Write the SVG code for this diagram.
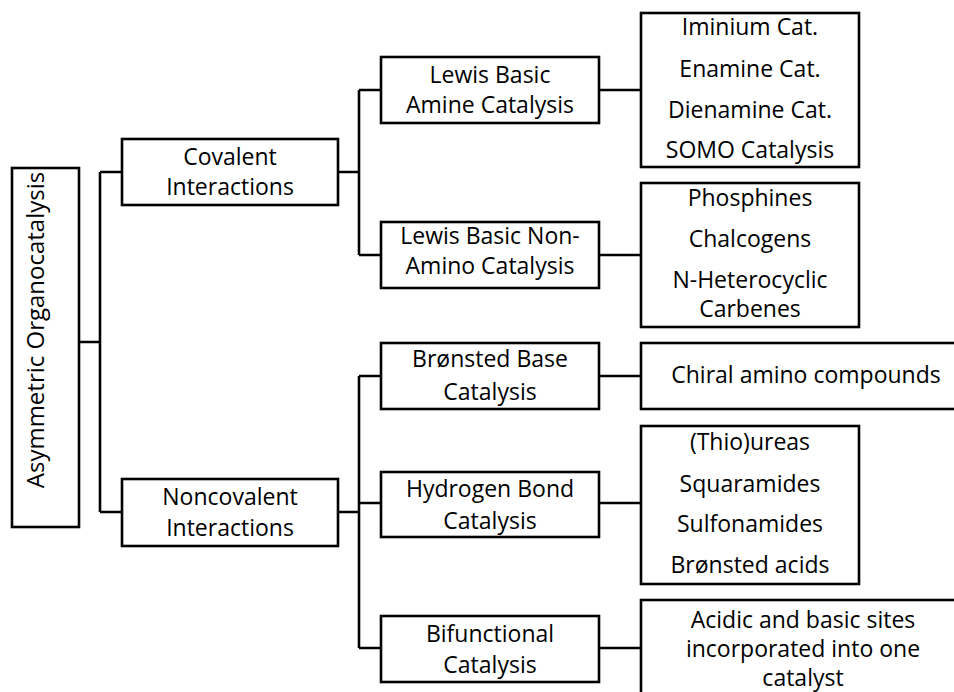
<svg xmlns="http://www.w3.org/2000/svg" width="954" height="692" viewBox="0 0 954 692">
<style>
.box{fill:#fff;stroke:#000;stroke-width:2.6}
.ln{fill:none;stroke:#000;stroke-width:2.6}
text{font-family:"Open Sans","Noto Sans","Liberation Sans",sans-serif;font-size:23px;fill:#000;text-anchor:middle}
.big{font-size:24px}
</style>
<rect width="954" height="692" fill="#fff"/>
<g id="connectors" class="ln">
<path d="M79,342H100M100,172V512M100,172H122M100,512H122"/>
<path d="M338,172H359M359,90V255M359,90H381M359,255H381"/>
<path d="M338,512H359M359,376V648M359,376H381M359,503H381M359,648H381"/>
<path d="M599,90H641M599,255H641M599,376H641M599,503H641M599,648H641"/>
</g>
<g id="root"><rect class="box" x="12" y="168" width="67" height="359"/>
<text class="big" transform="translate(44,330) rotate(-90)">Asymmetric Organocatalysis</text></g>
<g id="covalent"><rect class="box" x="122" y="139" width="216" height="66"/>
<text x="230" y="165">Covalent</text><text x="230" y="195">Interactions</text></g>
<g id="noncovalent"><rect class="box" x="122" y="479" width="216" height="67"/>
<text x="230" y="505">Noncovalent</text><text x="230" y="536">Interactions</text></g>
<g id="lewis-amine"><rect class="box" x="381" y="57" width="218" height="66"/>
<text x="490" y="83">Lewis Basic</text><text x="490" y="113">Amine Catalysis</text></g>
<g id="lewis-nonamino"><rect class="box" x="381" y="222" width="218" height="66"/>
<text x="490" y="244">Lewis Basic Non-</text><text x="490" y="274">Amino Catalysis</text></g>
<g id="bronsted-base"><rect class="box" x="381" y="343" width="218" height="66"/>
<text x="490" y="367">Brønsted Base</text><text x="490" y="400">Catalysis</text></g>
<g id="hbond"><rect class="box" x="381" y="472" width="218" height="65"/>
<text x="490" y="497">Hydrogen Bond</text><text x="490" y="529">Catalysis</text></g>
<g id="bifunctional"><rect class="box" x="381" y="616" width="218" height="66"/>
<text x="490" y="642">Bifunctional</text><text x="490" y="673">Catalysis</text></g>
<g id="amine-types"><rect class="box" x="641" y="13" width="218" height="154"/>
<text x="750" y="35">Iminium Cat.</text><text x="750" y="77">Enamine Cat.</text><text x="750" y="118">Dienamine Cat.</text><text x="750" y="158">SOMO Catalysis</text></g>
<g id="nonamino-types"><rect class="box" x="641" y="183" width="218" height="144"/>
<text x="750" y="206">Phosphines</text><text x="750" y="247">Chalcogens</text><text x="750" y="288">N-Heterocyclic</text><text x="750" y="317">Carbenes</text></g>
<g id="chiral-amino"><rect class="box" x="641" y="343" width="330" height="66"/>
<text x="806" y="383">Chiral amino compounds</text></g>
<g id="hbond-types"><rect class="box" x="641" y="426" width="218" height="158"/>
<text x="750" y="450">(Thio)ureas</text><text x="750" y="492">Squaramides</text><text x="750" y="532">Sulfonamides</text><text x="750" y="573">Brønsted acids</text></g>
<g id="bifunctional-desc"><rect class="box" x="641" y="600" width="330" height="110"/>
<text x="803" y="628">Acidic and basic sites</text><text x="803" y="657">incorporated into one</text><text x="803" y="686">catalyst</text></g>
</svg>
